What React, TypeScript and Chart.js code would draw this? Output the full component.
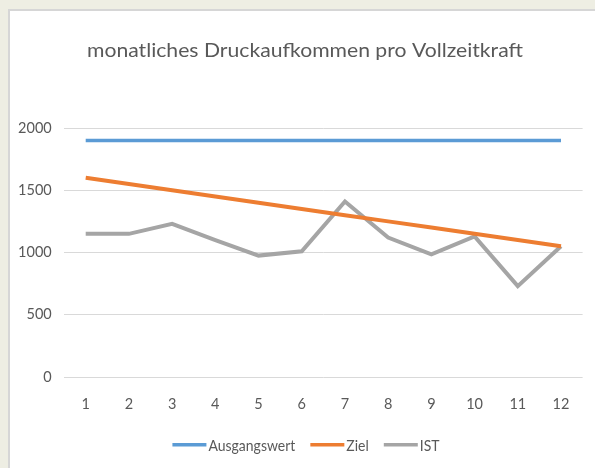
import React, { useEffect, useRef } from "react";
import { Chart, registerables } from "chart.js";

Chart.register(...registerables);

const categories = ["1", "2", "3", "4", "5", "6", "7", "8", "9", "10", "11", "12"];
const ausgangswert = [1900, 1900, 1900, 1900, 1900, 1900, 1900, 1900, 1900, 1900, 1900, 1900];
const ziel = [1600, 1550, 1500, 1450, 1400, 1350, 1300, 1250, 1200, 1150, 1100, 1050];
const ist = [1150, 1150, 1230, 1100, 975, 1010, 1410, 1120, 985, 1130, 730, 1050];
const titleText = "monatliches Druckaufkommen pro Vollzeitkraft";

const FONT = "Lato, 'Open Sans', sans-serif";
const TEXT_COLOR = "#595959";

// Draws the title and the legend (from the chart's own datasets)
const decorPlugin = {
  id: "decor",
  afterDraw(chart: any) {
    const ctx = chart.ctx as CanvasRenderingContext2D;
    ctx.save();
    // Title
    ctx.font = `20px ${FONT}`;
    ctx.fillStyle = TEXT_COLOR;
    ctx.textBaseline = "alphabetic";
    ctx.textAlign = "center";
    const tw = ctx.measureText(titleText).width;
    const sx = 436 / tw;
    ctx.save();
    ctx.translate(305, 57.3);
    ctx.scale(sx, 1);
    ctx.fillText(titleText, 0, 0);
    ctx.restore();

    // Legend
    const lineW = 34;
    const gapText = 2;
    const gapItem = 15;
    const fontSize = 14;
    const scaleY = 1.15;
    ctx.font = `${fontSize}px ${FONT}`;
    ctx.textAlign = "left";
    const items = chart.data.datasets.map((d: any) => ({
      label: d.label as string,
      color: d.borderColor as string,
      w: ctx.measureText(d.label).width,
    }));
    const total = items.reduce((a: number, it: any) => a + lineW + gapText + it.w, 0) + gapItem * (items.length - 1);
    let x = 306 - total / 2;
    const lineY = 444.7;
    const baseY = 450.5;
    for (const it of items) {
      ctx.strokeStyle = it.color;
      ctx.lineWidth = 3.5;
      ctx.beginPath();
      ctx.moveTo(x, lineY);
      ctx.lineTo(x + lineW, lineY);
      ctx.stroke();
      x += lineW + gapText;
      ctx.save();
      ctx.translate(x, baseY);
      ctx.scale(1, scaleY);
      ctx.fillStyle = TEXT_COLOR;
      ctx.fillText(it.label, 0, 0);
      ctx.restore();
      x += it.w + gapItem;
    }
    ctx.restore();
  },
};

export default function App() {
  const ref = useRef<HTMLCanvasElement | null>(null);

  useEffect(() => {
    if (!ref.current) return;
    const chart = new Chart(ref.current, {
      type: "line",
      data: {
        labels: categories,
        datasets: [
          { label: "Ausgangswert", data: ausgangswert, borderColor: "#5b9bd5", backgroundColor: "#5b9bd5", borderWidth: 3.5, pointRadius: 0, tension: 0 },
          { label: "Ziel", data: ziel, borderColor: "#ed7d31", backgroundColor: "#ed7d31", borderWidth: 4, pointRadius: 0, tension: 0 },
          { label: "IST", data: ist, borderColor: "#a5a5a5", backgroundColor: "#a5a5a5", borderWidth: 4, pointRadius: 0, tension: 0 },
        ],
      },
      options: {
        animation: false,
        responsive: false,
        layout: { padding: { left: 0, right: 12.4, top: 128, bottom: 35.6 } },
        plugins: {
          title: { display: false },
          legend: { display: false },
          tooltip: { enabled: false },
        },
        scales: {
          x: {
            offset: true,
            grid: { display: false, drawTicks: false },
            border: { display: false },
            ticks: { color: TEXT_COLOR, font: { family: FONT, size: 14.5 }, padding: 19, maxRotation: 0 },
          },
          y: {
            min: 0,
            max: 2000,
            grid: { color: "#d9d9d9", lineWidth: 1, drawTicks: false },
            border: { display: false },
            ticks: {
              stepSize: 500,
              color: TEXT_COLOR,
              font: { family: FONT, size: 14.5 },
              padding: 12.4,
              callback: (v: any) => String(v),
            },
            afterFit: (s: any) => { s.width = 64.1; },
          },
        },
      },
      plugins: [decorPlugin],
    });
    return () => chart.destroy();
  }, []);

  return (
    <div style={{ position: "fixed", left: 0, top: 0, width: 595, height: 468, background: "#eeeee3", overflow: "hidden" }}>
      <div style={{ position: "absolute", left: 8, top: 9, width: 587, height: 459, background: "#ffffff", borderLeft: "2px solid #d6d6d6", borderTop: "2px solid #d6d6d6", boxSizing: "border-box" }} />
      <canvas ref={ref} width={595} height={468} style={{ position: "absolute", left: 0, top: 0, width: 595, height: 468 }} />
    </div>
  );
}
